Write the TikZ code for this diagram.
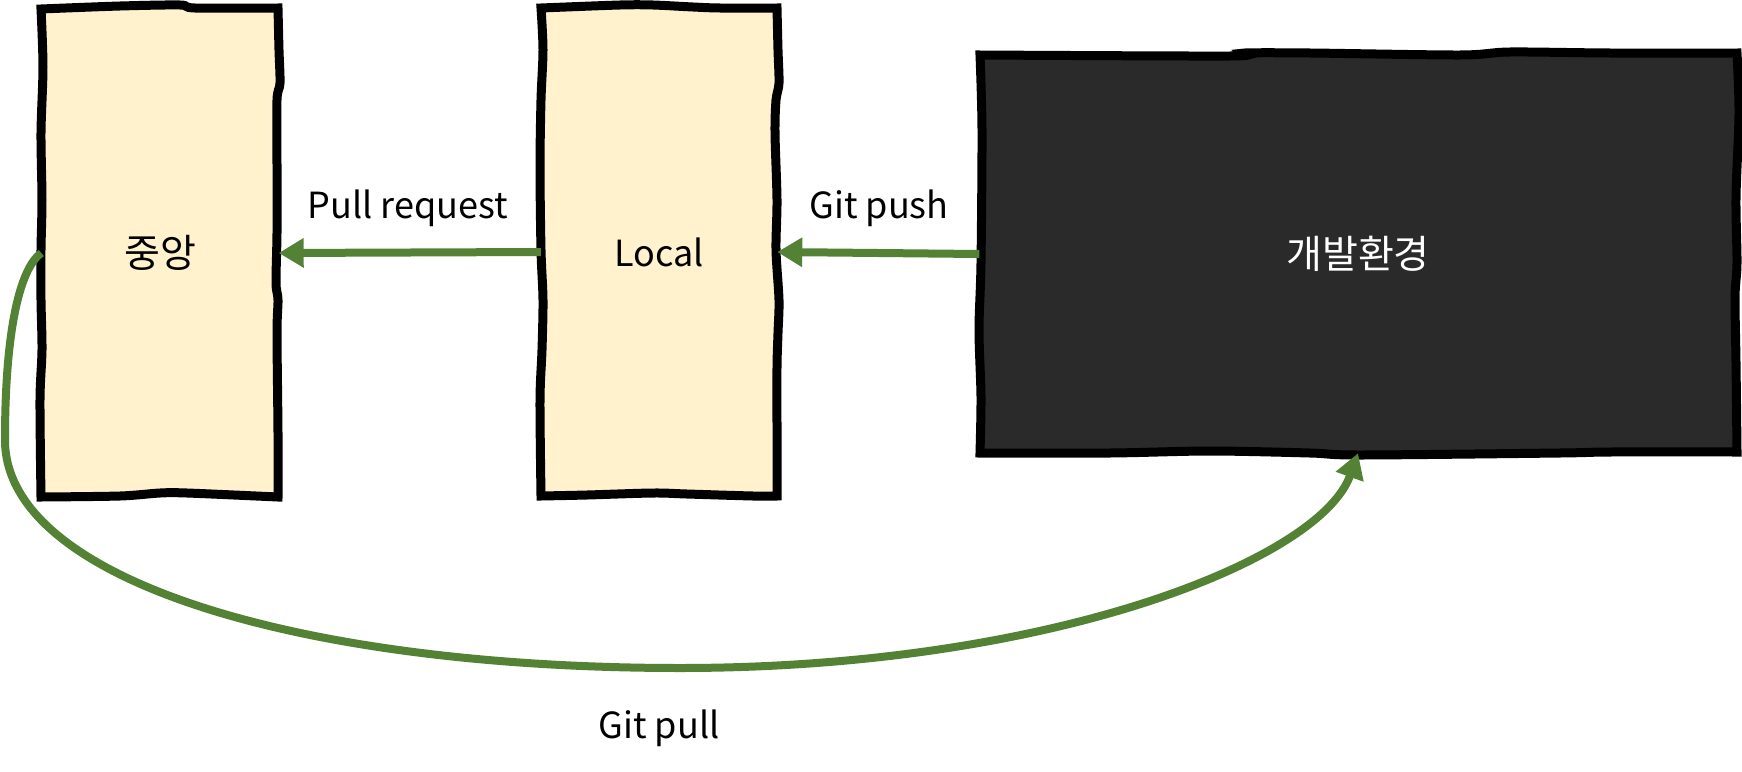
\documentclass[tikz,border=0pt]{standalone}
\usepackage{fontspec}
\setmainfont{Noto Sans CJK KR}
\usetikzlibrary{arrows.meta}
\definecolor{boxfill}{HTML}{FFF2CC}
\definecolor{darkfill}{HTML}{2A2A2A}
\definecolor{arrgreen}{HTML}{548235}
\tikzset{
  sketchbox/.style={line width=9pt, draw=black, line join=miter},
  hidebox/.style={draw=none, inner sep=0pt},
  kfont/.style={font=\fontsize{39}{44}\selectfont},
  lbl/.style={font=\fontsize{36}{40}\selectfont, inner sep=0pt},
  arr/.style={draw=arrgreen, line width=8pt, -{Triangle[length=25pt,width=28pt]}},
}
\begin{document}
\begin{tikzpicture}[x=1pt,y=-1pt]
\useasboundingbox (0,0) rectangle (1742,771);
% sketchy outlines
\filldraw[sketchbox, fill=boxfill]
  plot[smooth] coordinates {(41,9) (120,6) (180,5) (195,8) (278,8)}
  -- plot[smooth] coordinates {(278,8) (279,50) (280,83) (277,100) (277,167) (277,233) (276,283) (278,300) (277,333) (278,433) (278,497)}
  -- plot[smooth] coordinates {(278,497) (187,493) (160,493) (120,496) (41,497)}
  -- plot[smooth] coordinates {(41,497) (40,400) (42,350) (41,300) (41,250) (42,200) (41,133) (43,67) (41,9)}
  -- cycle;
\filldraw[sketchbox, fill=boxfill]
  plot[smooth] coordinates {(541,8) (620,5) (653,5) (693,7) (720,8) (777,8)}
  -- plot[smooth] coordinates {(777,8) (778,50) (779,83) (776,100) (775,133) (777,200) (776,250) (779,300) (778,333) (777,367) (777,433) (777,496)}
  -- plot[smooth] coordinates {(777,496) (753,496) (687,494) (653,493) (587,495) (541,496)}
  -- plot[smooth] coordinates {(541,496) (540,400) (542,350) (543,300) (541,250) (540,167) (541,100) (543,50) (541,8)}
  -- cycle;
\filldraw[sketchbox, fill=darkfill]
  plot[smooth] coordinates {(980,55) (1230,56) (1245,53) (1310,53) (1460,55) (1510,52) (1610,53) (1737,53)}
  -- plot[smooth] coordinates {(1737,53) (1739,113) (1736,197) (1737,263) (1735,297) (1736,363) (1737,452)}
  -- plot[smooth] coordinates {(1737,452) (1610,452) (1560,453) (1360,455) (1310,453) (1210,451) (1110,453) (980,453)}
  -- plot[smooth] coordinates {(980,453) (981,397) (979,330) (981,263) (982,130) (980,55)}
  -- cycle;
% nodes
\node[hidebox, kfont, minimum width=237pt, minimum height=489pt] (center1) at (160,253) {중앙};
\node[hidebox, lbl, minimum width=236pt, minimum height=489pt] (local) at (659,252) {Local};
\node[hidebox, kfont, minimum width=757pt, minimum height=398pt, text=white] (dev) at (1358,254) {개발환경};
\node[lbl] (plabel) at (408,208) {Pull request};
\node[lbl] (gplabel) at (879,208) {Git push};
\node[lbl] (gpulllabel) at (659,728) {Git pull};
% connectors
\draw[arr] (local.west) -- (center1.east);
\draw[arr] (dev.west) -- (local.east);
\draw[arr] (center1.west) .. controls (20,268) and (5,330) .. (5,440)
  .. controls (5,580) and (300,668) .. (680,668)
  .. controls (1050,668) and (1320,560) .. (dev.south);
\end{tikzpicture}
\end{document}
